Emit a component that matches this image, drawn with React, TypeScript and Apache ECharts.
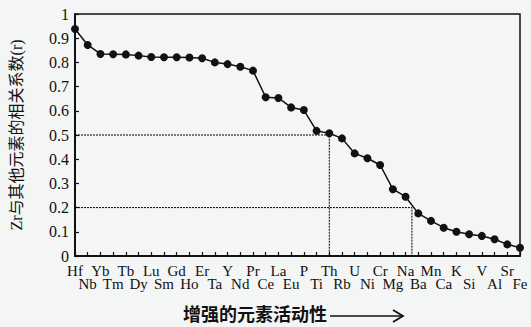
import React, { useEffect, useRef } from "react";
import * as echarts from "echarts";

const categories = [
  "Hf", "Nb", "Yb", "Tm", "Tb", "Dy", "Lu", "Sm", "Gd", "Ho", "Er", "Ta",
  "Y", "Nd", "Pr", "Ce", "La", "Eu", "P", "Ti", "Th", "Rb", "U", "Ni",
  "Cr", "Mg", "Na", "Ba", "Mn", "Ca", "K", "Si", "V", "Al", "Sr", "Fe",
];

const correlation = [
  0.938, 0.872, 0.835, 0.834, 0.833, 0.828, 0.822, 0.821, 0.821, 0.82, 0.817, 0.8,
  0.793, 0.782, 0.766, 0.656, 0.653, 0.614, 0.603, 0.517, 0.507, 0.486, 0.424, 0.404,
  0.376, 0.276, 0.245, 0.176, 0.145, 0.117, 0.1, 0.09, 0.083, 0.069, 0.048, 0.034,
];

// Guide lines: [x position (category index), r level]
const guide05 = { x: 20, r: 0.5 };
const guide02 = { x: 26.5, r: 0.2 };

const yAxisTitle = "Zr与其他元素的相关系数(r)";
const xAxisTitle = "增强的元素活动性";

export default function App() {
  const ref = useRef<HTMLDivElement>(null);
  useEffect(() => {
    if (!ref.current) return;
    const chart = echarts.init(ref.current, null, { renderer: "svg" });
    const serif = "'Liberation Serif', 'Noto Sans CJK SC', serif";
    const guideStyle = { color: "#000", width: 1, type: [2, 1] as any };
    chart.setOption({
      animation: false,
      backgroundColor: "#f4f5f5",
      grid: {
        left: 70, right: 11, top: 14, bottom: 71,
        show: true, borderColor: "#111", borderWidth: 1.5, backgroundColor: "transparent",
      },
      xAxis: [
        {
          type: "category",
          data: categories,
          boundaryGap: false,
          axisLine: { lineStyle: { color: "#111", width: 2 } },
          axisTick: { inside: true, length: 4, alignWithLabel: true, interval: 0, lineStyle: { color: "#111", width: 1.2 } },
          axisLabel: {
            interval: 0,
            margin: 8,
            color: "#111",
            fontFamily: serif,
            fontSize: 15,
            lineHeight: 13,
            formatter: (v: string, i: number) => (i % 2 === 0 ? v : "\n" + v),
          },
          splitLine: { show: false },
        },
        {
          type: "value",
          min: 0,
          max: categories.length - 1,
          show: false,
        },
      ],
      yAxis: {
        type: "value",
        min: 0,
        max: 1,
        interval: 0.1,
        name: yAxisTitle,
        nameLocation: "middle",
        nameGap: 51,
        nameRotate: 90,
        nameTextStyle: { fontFamily: serif, fontSize: 16, color: "#111" },
        axisLine: { show: true, lineStyle: { color: "#111", width: 2 } },
        axisTick: { show: true, inside: true, length: 4, lineStyle: { color: "#111", width: 1.2 } },
        axisLabel: { color: "#111", fontFamily: serif, fontSize: 16, margin: 6 },
        splitLine: { show: false },
      },
      series: [
        {
          type: "line",
          xAxisIndex: 1,
          data: [[0, guide05.r], [guide05.x, guide05.r], [guide05.x, 0]],
          symbol: "none",
          lineStyle: guideStyle,
          z: 1,
        },
        {
          type: "line",
          xAxisIndex: 1,
          data: [[0, guide02.r], [guide02.x, guide02.r], [guide02.x, 0]],
          symbol: "none",
          lineStyle: guideStyle,
          z: 1,
        },
        {
          type: "line",
          data: correlation,
          symbol: "circle",
          symbolSize: 8,
          itemStyle: { color: "#111" },
          lineStyle: { color: "#111", width: 1.5 },
          z: 3,
        },
      ],
      graphic: [
        {
          type: "text",
          left: 183,
          top: 304,
          style: {
            text: xAxisTitle,
            fontFamily: "'Noto Sans CJK SC', sans-serif",
            fontWeight: "bold",
            fontSize: 18,
            fill: "#111",
          },
        },
        {
          type: "line",
          shape: { x1: 330, y1: 316, x2: 402, y2: 316 },
          style: { stroke: "#111", lineWidth: 1.6 },
        },
        {
          type: "polyline",
          shape: { points: [[393, 310], [403, 316], [393, 322]] },
          style: { stroke: "#111", lineWidth: 1.8, fill: "none" },
        },
      ],
    });
    return () => chart.dispose();
  }, []);
  return (
    <div
      ref={ref}
      style={{ position: "fixed", left: 0, top: 0, width: 531, height: 327 }}
    />
  );
}
